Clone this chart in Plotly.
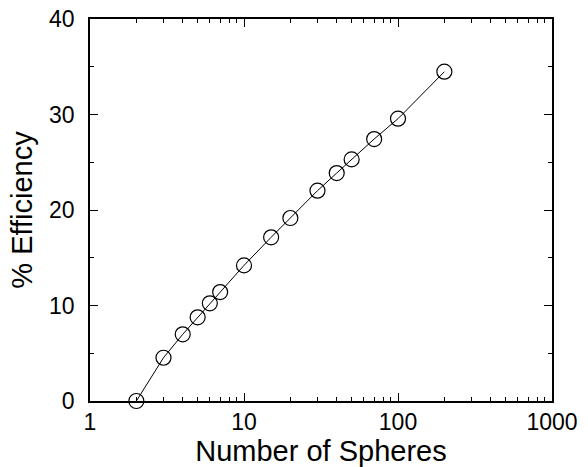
import plotly.graph_objects as go

spheres = [2, 3, 4, 5, 6, 7, 10, 15, 20, 30, 40, 50, 70, 100, 200]
efficiency = [0.0, 4.53, 6.98, 8.76, 10.23, 11.41, 14.2, 17.14, 19.16, 22.02, 23.87, 25.3, 27.43, 29.56, 34.48]

x_tickvals = [1, 10, 100, 1000]
x_ticktext = ["1", "10", "100", "1000"]
x_minor = [2, 3, 4, 5, 6, 7, 8, 9, 20, 30, 40, 50, 60, 70, 80, 90,
           200, 300, 400, 500, 600, 700, 800, 900]
y_tickvals = [0, 10, 20, 30, 40]

fig = go.Figure()
fig.add_trace(go.Scatter(
    x=spheres, y=efficiency, mode="lines+markers",
    line=dict(color="black", width=1),
    marker=dict(symbol="circle-open", size=15, color="black", line=dict(width=1.2)),
    cliponaxis=False, showlegend=False,
))

font = "Liberation Sans, Arial, sans-serif"
fig.update_layout(
    width=588, height=467,
    margin=dict(l=90, r=36, t=19, b=66),
    paper_bgcolor="white", plot_bgcolor="white",
    font=dict(family=font, color="black", size=23),
    xaxis=dict(
        type="log", range=[0, 3], automargin=False,
        tickvals=x_tickvals, ticktext=x_ticktext, ticklabeloverflow="allow",
        ticks="inside", ticklen=8, tickcolor="black", tickwidth=1,
        showline=True, linecolor="black", linewidth=1.5, mirror="ticks",
        showgrid=False, zeroline=False,
        minor=dict(ticks="inside", ticklen=4, tickcolor="black", tickwidth=1,
                   tickvals=x_minor, showgrid=False),
        title=dict(text="Number of Spheres", font=dict(size=29), standoff=0),
        tickfont=dict(size=23),
    ),
    yaxis=dict(
        range=[0, 40], tickvals=y_tickvals, automargin=False,
        ticklabeloverflow="allow",
        ticks="inside", ticklen=8, tickcolor="black", tickwidth=1,
        showline=True, linecolor="black", linewidth=1.5, mirror="ticks",
        showgrid=False, zeroline=False,
        minor=dict(ticks="inside", ticklen=4, tickcolor="black", tickwidth=1,
                   dtick=5, showgrid=False),
        title=dict(text="% Efficiency", font=dict(size=29), standoff=8),
        tickfont=dict(size=23),
        ticklabelstandoff=9,
    ),
)

fig.write_html("out.html", config={"displayModeBar": False},
               post_script="document.body.style.margin='0';")
